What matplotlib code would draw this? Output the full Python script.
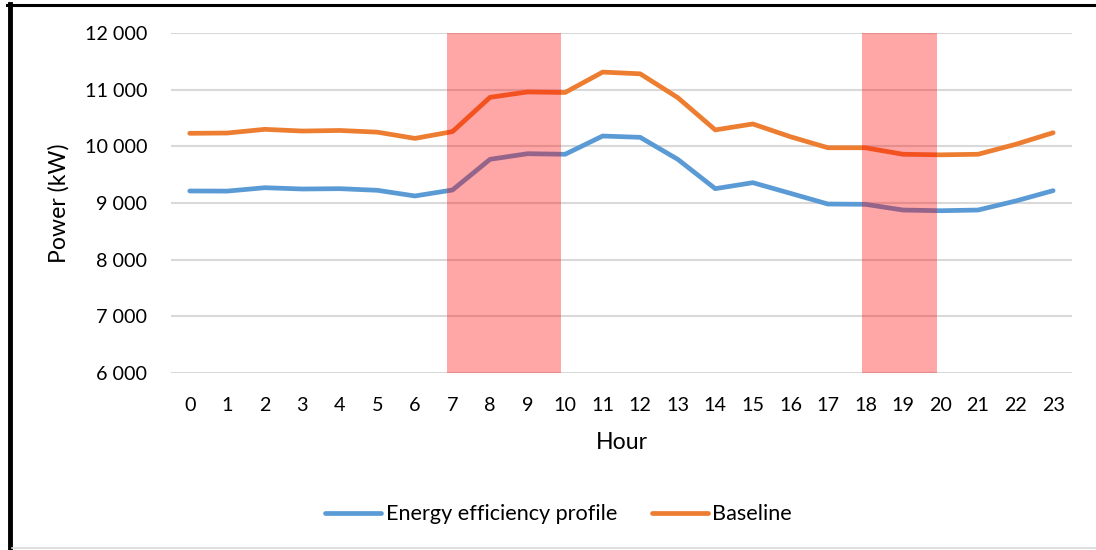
import matplotlib
matplotlib.use("Agg")
import matplotlib.pyplot as plt
from matplotlib.lines import Line2D
from matplotlib.ticker import FuncFormatter
import numpy as np

hours = list(range(24))
baseline = [10230, 10235, 10300, 10270, 10280, 10250, 10140, 10260,
            10865, 10960, 10950, 11310, 11280, 10860, 10290, 10395,
            10170, 9975, 9975, 9860, 9850, 9860, 10035, 10240]
efficiency = [9212, 9210, 9270, 9247, 9253, 9224, 9124, 9230,
              9771, 9870, 9860, 10182, 10159, 9771, 9253, 9359,
              9171, 8982, 8977, 8876, 8864, 8876, 9035, 9218]
peak_periods = [(6.85, 9.9), (17.9, 19.9)]

plt.rcParams["font.family"] = ["Lato", "DejaVu Sans"]

dpi = 100
fig = plt.figure(figsize=(1096 / dpi, 550 / dpi), dpi=dpi)
ax = fig.add_axes([0.156, 0.3218, 0.822, 0.6182])

ax.plot(hours, efficiency, color="#5B9BD5", lw=3.4, solid_capstyle="round",
        label="Energy efficiency profile", zorder=3)
ax.plot(hours, baseline, color="#ED7D31", lw=3.4, solid_capstyle="round",
        label="Baseline", zorder=3)

# peak hours, drawn over the lines
for start, end in peak_periods:
    ax.axvspan(start, end, color="red", alpha=0.35, lw=0, zorder=4)

ax.set_xlim(-0.5, 23.5)
ax.set_ylim(6000, 12000)
ax.set_xticks(hours)
ax.set_yticks(np.arange(6000, 12001, 1000))
ax.yaxis.set_major_formatter(FuncFormatter(lambda v, p: f"{int(v):,}".replace(",", " ")))
ax.grid(axis="y", color="#D9D9D9", lw=1.5, zorder=0)
ax.set_axisbelow(True)
for s in ax.spines.values():
    s.set_visible(False)
ax.tick_params(length=0, labelsize=14.2, colors="black")
ax.tick_params(axis="y", pad=17)
ax.tick_params(axis="x", pad=17)

ax.set_xlabel("Hour", fontsize=16.6, labelpad=13)
ax.set_ylabel("Power (kW)", fontsize=16.6, labelpad=11)

ax.legend(loc="center", bbox_to_anchor=(0.5095, 0.065), bbox_transform=fig.transFigure,
          ncol=2, frameon=False, fontsize=15.6, handlelength=2.6, handletextpad=0.2,
          columnspacing=1.6)

# chart frame
fig.add_artist(Line2D([0.0064, 1.0], [0.991, 0.991], color="black", lw=2.2,
                      transform=fig.transFigure))
fig.add_artist(Line2D([0.0087, 0.0087], [0.0, 0.993], color="black", lw=3.5,
                      transform=fig.transFigure))
fig.add_artist(Line2D([0.011, 1.0], [0.0036, 0.0036], color="#D9D9D9", lw=1.2,
                      transform=fig.transFigure))

fig.savefig("out.png", dpi=dpi)
